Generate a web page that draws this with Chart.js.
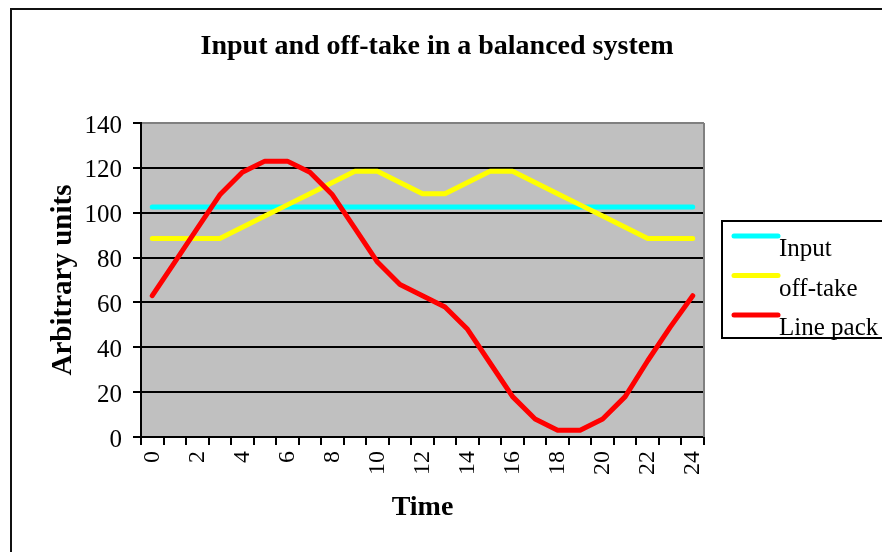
<!DOCTYPE html>
<html>
<head>
<meta charset="utf-8">
<script src="https://cdn.jsdelivr.net/npm/chart.js@4.4.0/dist/chart.umd.min.js"></script>
<style>
    body { margin: 0; background: #fff; }
    #wrap { width: 882px; height: 552px; }
</style>
</head>
<body>
<div id="wrap"><canvas id="chart" width="882" height="552"></canvas></div>
<script>
//data
const hours = ['0','1','2','3','4','5','6','7','8','9','10','11','12','13','14','15','16','17','18','19','20','21','22','23','24'];
const inputValues = [102.5,102.5,102.5,102.5,102.5,102.5,102.5,102.5,102.5,102.5,102.5,102.5,102.5,102.5,102.5,102.5,102.5,102.5,102.5,102.5,102.5,102.5,102.5,102.5,102.5];
const offtakeValues = [88.5,88.5,88.5,88.5,93.5,98.5,103.5,108.5,113.5,118.5,118.5,113.5,108.5,108.5,113.5,118.5,118.5,113.5,108.5,103.5,98.5,93.5,88.5,88.5,88.5];
const linePackValues = [63,78,93,108,118,123,123,118,108,93,78,68,63,58,48,33,18,8,3,3,8,18,34,49,63];
const seriesNames = ['Input', 'off-take', 'Line pack'];
const seriesColors = ['#00ffff', '#ffff00', '#ff0000'];
const chartTitle = 'Input and off-take in a balanced system';

const serif = '"Liberation Serif", "Times New Roman", serif';

//grey plot area, frame round the whole chart, title
const backdrop = {
    id: 'backdrop',
    beforeDraw(chart) {
        const ctx = chart.ctx;
        const a = chart.chartArea;
        ctx.save();
        ctx.fillStyle = '#fff';
        ctx.fillRect(0, 0, chart.width, chart.height);
        ctx.fillStyle = '#c0c0c0';
        ctx.fillRect(a.left, a.top, a.right - a.left, a.bottom - a.top);
        ctx.strokeStyle = '#111';
        ctx.lineWidth = 2;
        ctx.strokeRect(11, 9, chart.width + 10, chart.height + 10);
        ctx.fillStyle = '#000';
        ctx.font = 'bold 28px ' + serif;
        ctx.textAlign = 'center';
        ctx.textBaseline = 'middle';
        ctx.fillText(chartTitle, 437, 47);
        ctx.restore();
    },
    beforeDatasetsDraw(chart) {
        const ctx = chart.ctx;
        const a = chart.chartArea;
        ctx.save();
        ctx.strokeStyle = '#808080';
        ctx.lineWidth = 2;
        ctx.beginPath();
        ctx.moveTo(a.right, a.top);
        ctx.lineTo(a.right, a.bottom);
        ctx.stroke();
        ctx.restore();
    }
};

//boxed legend on the right, text sits below the line sample
const boxLegend = {
    id: 'boxLegend',
    afterDraw(chart) {
        const ctx = chart.ctx;
        ctx.save();
        ctx.fillStyle = '#fff';
        ctx.fillRect(722, 221, 200, 117);
        ctx.strokeStyle = '#000';
        ctx.lineWidth = 2;
        ctx.strokeRect(722, 221, 200, 117);
        ctx.font = '25px ' + serif;
        ctx.textAlign = 'left';
        ctx.textBaseline = 'alphabetic';
        chart.data.datasets.forEach((ds, i) => {
            const y = 236 + i * 39.5;
            ctx.strokeStyle = ds.borderColor;
            ctx.lineWidth = 5;
            ctx.lineCap = 'round';
            ctx.beginPath();
            ctx.moveTo(734, y);
            ctx.lineTo(778, y);
            ctx.stroke();
            ctx.fillStyle = '#000';
            ctx.fillText(ds.label, 779, y + 20);
        });
        ctx.restore();
    }
};

function lineSet(i, values, order) {
    return {
        label: seriesNames[i],
        data: values,
        borderColor: seriesColors[i],
        backgroundColor: seriesColors[i],
        borderWidth: 5,
        pointRadius: 0,
        tension: 0,
        borderJoinStyle: 'round',
        borderCapStyle: 'round',
        order: order
    };
}

new Chart(document.getElementById('chart'), {
    type: 'line',
    data: {
        labels: hours,
        datasets: [
            lineSet(0, inputValues, 2),
            lineSet(1, offtakeValues, 1),
            lineSet(2, linePackValues, 0)
        ]
    },
    options: {
        responsive: false,
        animation: false,
        events: [],
        layout: { padding: { left: 30, right: 178, top: 123, bottom: 0 } },
        plugins: {
            legend: { display: false },
            tooltip: { enabled: false },
            title: { display: false }
        },
        scales: {
            x: {
                type: 'category',
                offset: true,
                afterFit(scale) { scale.height = 115; },
                grid: {
                    display: true,
                    drawOnChartArea: false,
                    drawTicks: true,
                    tickLength: 8,
                    color: '#000',
                    lineWidth: 2,
                    offset: true
                },
                border: { display: true, color: '#000', width: 2 },
                ticks: {
                    autoSkip: false,
                    minRotation: 90,
                    maxRotation: 90,
                    padding: 6,
                    color: '#000',
                    font: { family: serif, size: 24 },
                    callback: (v, idx) => idx % 2 === 0 ? hours[idx] : ''
                },
                title: {
                    display: true,
                    text: 'Time',
                    color: '#000',
                    font: { family: serif, size: 28, weight: 'bold' },
                    padding: { top: 0, bottom: 27 }
                }
            },
            y: {
                min: 0,
                max: 140,
                afterFit(scale) { scale.width = 111; },
                grid: {
                    color: (c) => c.tick && c.tick.value === 140 ? '#808080' : '#000',
                    tickColor: '#000',
                    lineWidth: 2,
                    tickLength: 8
                },
                border: { display: true, color: '#000', width: 2 },
                ticks: {
                    stepSize: 20,
                    padding: 11,
                    labelOffset: 3,
                    color: '#000',
                    font: { family: serif, size: 25 }
                },
                title: {
                    display: true,
                    text: 'Arbitrary units',
                    color: '#000',
                    font: { family: serif, size: 29, weight: 'bold' },
                    padding: { top: 16, bottom: 0 }
                }
            }
        }
    },
    plugins: [backdrop, boxLegend]
});
</script>
</body>
</html>
